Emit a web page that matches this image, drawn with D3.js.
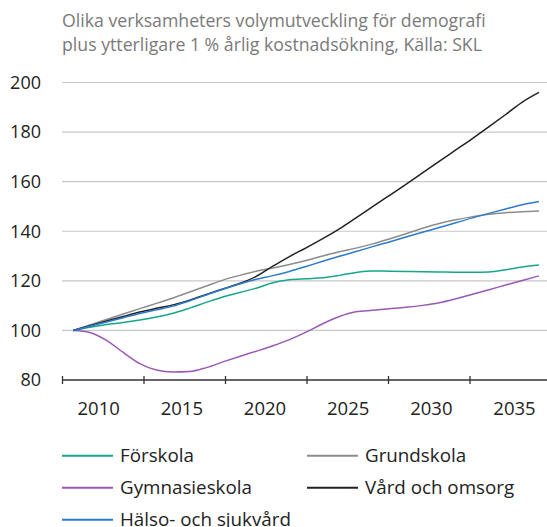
<!DOCTYPE html>
<html lang="sv">

<head>
    <meta charset="utf-8">
    <script src="https://d3js.org/d3.v7.min.js"></script>
    <style>
        body { margin: 0; background: #fff; font-family: "Open Sans", sans-serif; }
    </style>
</head>

<body>
    <div class="chart"></div>

    <script>
        // Data (index 0 = 2008, volume index, start = 100)
        const years = d3.range(2008, 2037);
        const forskola = [100, 101.3, 102.4, 103.2, 104.2, 105.4, 106.9, 109, 111.3, 113.5, 115.3, 117, 119.2, 120.4, 120.8,
            121.2, 122.2, 123.4, 124, 123.9, 123.8, 123.7, 123.6, 123.5, 123.5, 123.6, 124.5, 125.6, 126.4];
        const grundskola = [100, 102.2, 104.4, 106.6, 108.8, 110.9, 113.1, 115.5, 117.9, 120.3, 122.2, 123.9, 125.2, 126.6, 128.2,
            130, 131.7, 133.2, 134.9, 136.9, 139, 141.2, 143.1, 144.6, 145.9, 146.9, 147.5, 147.9, 148.2];
        const gymnasieskola = [100, 99.2, 96, 91.1, 86.6, 84, 83.2, 83.4, 85, 87.3, 89.5, 91.6, 93.8, 96.3, 99.3,
            102.7, 105.6, 107.5, 108.1, 108.7, 109.3, 110.1, 111.2, 112.8, 114.6, 116.4, 118.3, 120.1, 122];
        const vardOmsorg = [100, 101.9, 103.8, 105.6, 107.4, 108.9, 110.3, 112.2, 114.5, 116.7, 118.9, 121.8, 125.9, 129.8, 133.3,
            137, 141, 145.4, 149.9, 154.4, 158.9, 163.5, 168.2, 172.8, 177.4, 182.2, 187.1, 192.1, 196];
        const halsoSjukvard = [100, 101.7, 103.4, 105.1, 106.8, 108.3, 109.8, 112, 114.3, 116.6, 118.7, 120.6, 122.1, 123.8, 125.8,
            127.9, 129.9, 131.8, 133.8, 135.7, 137.7, 139.6, 141.5, 143.4, 145.4, 147.2, 149, 150.7, 152];

        const seriesNames = ["Förskola", "Grundskola", "Gymnasieskola", "Vård och omsorg", "Hälso- och sjukvård"];
        const seriesColors = ["#16a68a", "#8c8c8c", "#9b59b6", "#222222", "#2b7bcc"];
        const seriesValues = [forskola, grundskola, gymnasieskola, vardOmsorg, halsoSjukvard];

        const yTicks = [80, 100, 120, 140, 160, 180, 200];
        const xLabels = [2010, 2015, 2020, 2025, 2030, 2035];
        const titleLines = ["Olika verksamheters volymutveckling för demografi",
            "plus ytterligare 1 % årlig kostnadsökning, Källa: SKL"];

        // Dimensions
        const width = 547;
        const height = 527;
        const left = 62;

        const svg = d3.select(".chart").append("svg")
            .attr("width", width)
            .attr("height", height);

        // Scales
        const x = d3.scaleLinear().domain([2010, 2035]).range([98.2, 514]); // year positions (mid-year points)
        const xCat = d3.scaleLinear().domain([0, 30]).range([left, 551]); // category boundaries for tick marks
        const y = d3.scaleLinear().domain([80, 200]).range([380, 82.5]);

        // Title
        svg.append("g").selectAll("text")
            .data(titleLines)
            .enter()
            .append("text")
            .attr("x", left).attr("y", (d, i) => 26.5 + i * 24)
            .attr("font-size", 17.7)
            .attr("fill", "#7a7a7a")
            .text(d => d);

        // Gridlines
        svg.append("g")
            .selectAll("line")
            .data(yTicks.filter(d => d > 80))
            .enter()
            .append("line")
            .attr("x1", left).attr("x2", width)
            .attr("y1", d => y(d)).attr("y2", d => y(d))
            .attr("stroke", "#c9c9c9").attr("stroke-width", 1.2);

        // Y labels
        const yAxis = svg.append("g")
            .attr("transform", "translate(41,0)")
            .call(d3.axisLeft(y).tickValues(yTicks).tickSize(0).tickPadding(0));
        yAxis.select(".domain").remove();
        yAxis.selectAll("text").attr("font-size", 18).attr("font-family", "Open Sans").attr("fill", "#222");

        // X axis: line with tick marks at category boundaries
        const xAxis = svg.append("g")
            .attr("transform", `translate(0,${y(80)})`)
            .call(d3.axisBottom(xCat).tickValues([0, 5, 10, 15, 20, 25]).tickSize(4).tickSizeOuter(0).tickFormat(""));
        xAxis.select(".domain").attr("stroke", "#333").attr("stroke-width", 1.3).attr("d", `M${left},0H${width}`);
        xAxis.selectAll(".tick line").attr("stroke", "#333").attr("stroke-width", 1.3).attr("y1", -4).attr("y2", 4);

        // X labels
        const xLab = svg.append("g")
            .attr("transform", `translate(0,${y(80) + 22})`)
            .call(d3.axisBottom(x).tickValues(xLabels).tickSize(0).tickPadding(0).tickFormat(d3.format("d")));
        xLab.select(".domain").remove();
        xLab.selectAll("text").attr("font-size", 18.5).attr("font-family", "Open Sans").attr("fill", "#222");

        // Lines
        const line = d3.line()
            .x((d, i) => x(years[i] + 0.5))
            .y(d => y(d))
            .curve(d3.curveMonotoneX);

        // draw order: gymnasie, förskola, grundskola, vård, hälso on top
        [2, 0, 1, 3, 4].forEach(k => {
            svg.append("path")
                .datum(seriesValues[k])
                .attr("fill", "none")
                .attr("stroke", seriesColors[k])
                .attr("stroke-width", 1.5)
                .attr("d", line);
        });

        // Legend
        const legend = svg.append("g").selectAll("g")
            .data(seriesNames)
            .enter()
            .append("g")
            .attr("transform", (d, i) => `translate(${i % 2 == 0 ? left : 307},${455.7 + Math.floor(i / 2) * 32})`);
        legend.append("line")
            .attr("x1", 0).attr("x2", 51)
            .attr("stroke", (d, i) => seriesColors[i])
            .attr("stroke-width", 2);
        legend.append("text")
            .attr("x", 58).attr("y", 6.5)
            .attr("font-size", 18.8)
            .attr("fill", "#222")
            .text(d => d);
    </script>
</body>

</html>
